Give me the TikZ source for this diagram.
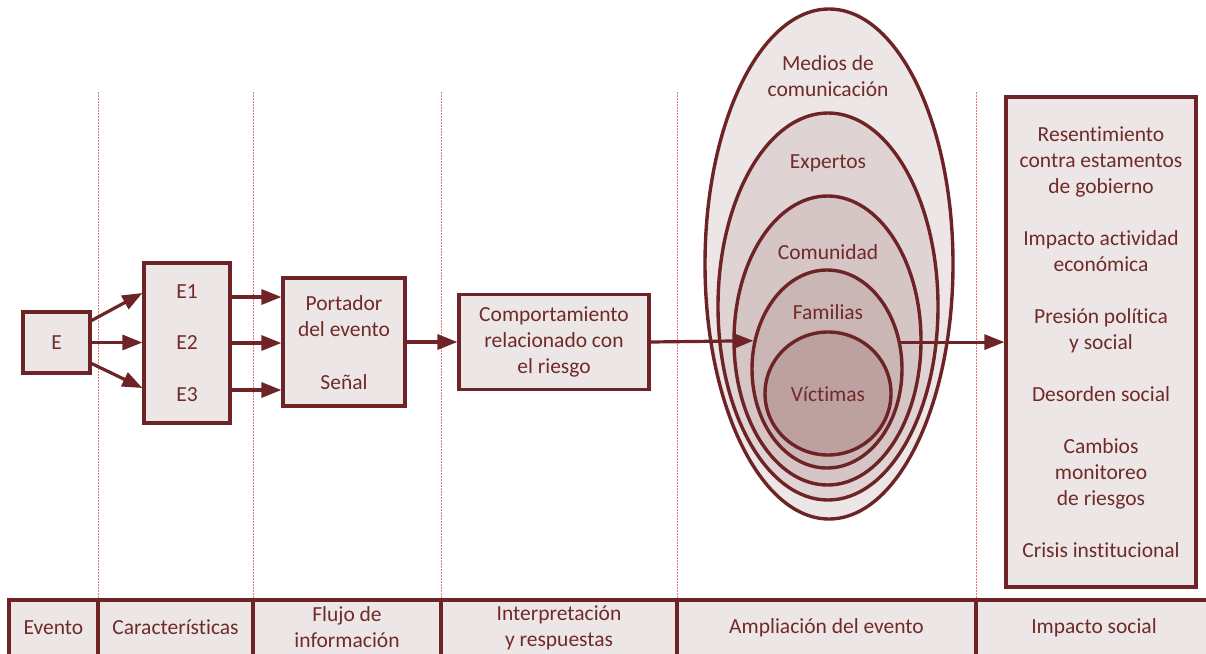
\documentclass[tikz,border=0pt]{standalone}
\usepackage{fontspec}
\setmainfont{Carlito}[Ligatures={NoCommon}]
\usetikzlibrary{arrows.meta,shapes.geometric}
\definecolor{wine}{RGB}{110,36,38}
\definecolor{winetext}{RGB}{112,42,42}
\definecolor{pale}{RGB}{237,230,230}
\definecolor{ringB}{RGB}{224,211,211}
\definecolor{ringC}{RGB}{214,197,197}
\definecolor{ringD}{RGB}{203,182,182}
\definecolor{ringE}{RGB}{189,161,161}
\definecolor{guide}{RGB}{232,120,120}

\begin{document}
\begin{tikzpicture}[x=1pt,y=-1pt,
  every node/.style={font=\fontsize{21.5}{26}\selectfont, text=winetext},
  box/.style={draw=wine, line width=3.2pt, fill=pale, inner sep=0pt, align=center},
  ring/.style={ellipse, draw=wine, line width=3.4pt, inner sep=0pt},
  lbl/.style={inner sep=0pt, align=center},
  arr/.style={draw=wine, line width=3.2pt, -{Triangle[length=20pt,width=15pt]}},
  guideline/.style={draw=guide, line width=0.8pt, dash pattern=on 2pt off 1pt},
  cell/.style={draw=wine, line width=3.2pt, fill=pale, inner sep=0pt, minimum height=65pt}
]
\useasboundingbox (0,0) rectangle (1206,653);

% stage separators
\foreach \gx in {98,253,441,677,976}
  \draw[guideline] (\gx,92) -- (\gx,600);

% stage bar along the bottom
\begin{scope}
  \clip (0,0) rectangle (1206,653);
  \node[cell, minimum width=89pt]  (cEvento)  at (53.5,632.5) {};
  \node[cell, minimum width=155pt] (cCaract)  at (175.5,632.5) {};
  \node[cell, minimum width=188pt] (cFlujo)   at (347,632.5) {};
  \node[cell, minimum width=236pt] (cInterp)  at (559,632.5) {};
  \node[cell, minimum width=299pt] (cAmpl)    at (826.5,632.5) {};
  \node[cell, minimum width=239pt] (cImpacto) at (1095.5,632.5) {};
\end{scope}
\node[lbl] (tEvento)  at (53.5,627.5)  {Evento};
\node[lbl] (tCaract)  at (175.5,627.5) {Características};
\node[lbl] (tFlujo)   at (347,627.5)   {Flujo de\\información};
\node[lbl] (tInterp)  at (559,627.5)   {Interpretación\\y respuestas};
\node[lbl] (tAmpl)    at (826.5,627.5) {Ampliación del evento};
\node[lbl] (tImpacto) at (1094,627.5)  {Impacto social};

% event and its characteristics
\node[box, minimum width=67pt, minimum height=61pt] (E) at (56.5,342.5) {E};
\node[box, minimum width=86pt, minimum height=160pt] (ebox) at (187,343) {};
\node[lbl] (e1) at (187,292) {E1};
\node[lbl] (e2) at (187,343) {E2};
\node[lbl] (e3) at (187,395) {E3};

% information flow
\node[box, minimum width=122pt, minimum height=128pt] (port) at (344,342) {};
\node[lbl] (portador) at (344,316.5) {Portador\\del evento};
\node[lbl] (senal) at (344,382) {Señal};

% interpretation
\node[box, minimum width=190pt, minimum height=95pt] (comp) at (554,342)
  {Comportamiento\\relacionado con\\el riesgo};

% amplification rings
\node[ring, fill=pale,  minimum width=248pt, minimum height=510pt] (medios)    at (829,264) {};
\node[ring, fill=ringB, minimum width=220pt, minimum height=387pt] (expertos)  at (828,306.5) {};
\node[ring, fill=ringC, minimum width=187pt, minimum height=289pt] (comunidad) at (827.5,340.5) {};
\node[ring, fill=ringD, minimum width=150pt, minimum height=198pt] (familias)  at (827,369) {};
\node[ring, fill=ringE, minimum width=126pt, minimum height=123pt] (victimas)  at (828,393.5) {};
\node[lbl] (tMedios)    at (828,76.5) {Medios de\\comunicación};
\node[lbl] (tExpertos)  at (828,163)  {Expertos};
\node[lbl] (tComunidad) at (828,252)  {Comunidad};
\node[lbl] (tFamilias)  at (828,312)  {Familias};
\node[lbl] (tVictimas)  at (828,394)  {Víctimas};

% social impact
\node[box, minimum width=190pt, minimum height=490pt] (impact) at (1101,342)
  {Resentimiento\\contra estamentos\\de gobierno\\[26pt]Impacto actividad\\económica\\[26pt]Presión política\\y social\\[26pt]Desorden social\\[26pt]Cambios\\monitoreo\\de riesgos\\[26pt]Crisis institucional};

% connectors
\draw[arr] ([yshift=22pt]E.east) -- ([yshift=50pt]ebox.west);
\draw[arr] (E.east) -- (E.east -| ebox.west);
\draw[arr] ([yshift=-21pt]E.east) -- ([yshift=-45pt]ebox.west);
\draw[arr] ([yshift=46pt]ebox.east) -- ([yshift=46pt]ebox.east -| port.west);
\draw[arr] (ebox.east) -- (ebox.east -| port.west);
\draw[arr] ([yshift=-47pt]ebox.east) -- ([yshift=-47pt]ebox.east -| port.west);
\draw[arr] (port.east) -- (port.east -| comp.west);
\draw[arr] (comp.east) -- (familias.159.5);
\draw[arr] (familias.20.5) -- (familias.20.5 -| impact.west);
\end{tikzpicture}
\end{document}
